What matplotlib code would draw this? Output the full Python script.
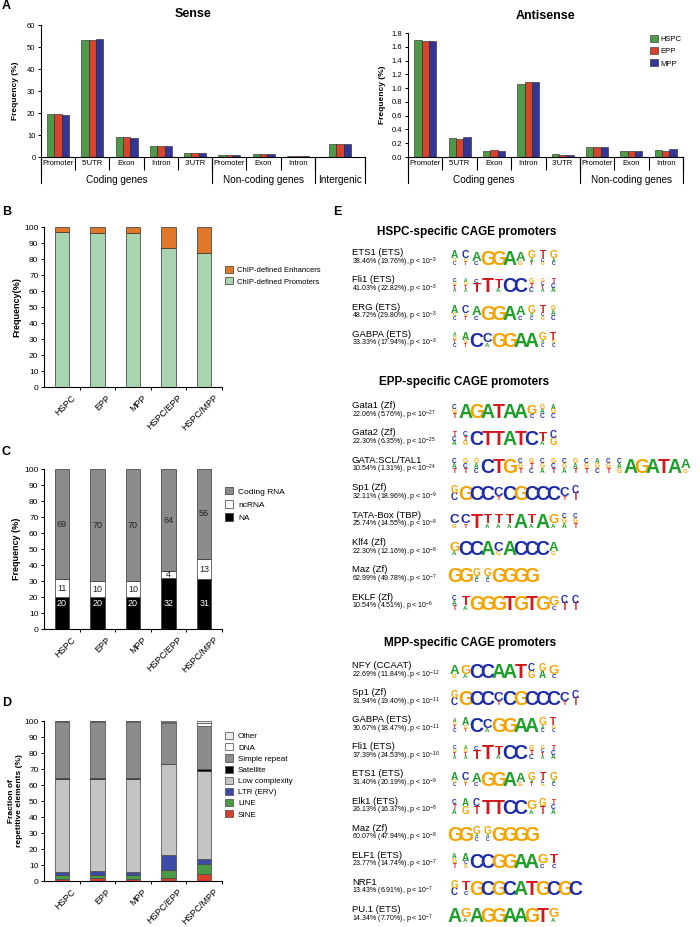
import matplotlib
matplotlib.use('agg')
import matplotlib.pyplot as plt
import matplotlib.transforms as mtransforms
import numpy as np

plt.rcParams['font.family'] = ['Liberation Sans', 'DejaVu Sans']
plt.rcParams['mathtext.fontset'] = 'custom'
plt.rcParams['mathtext.rm'] = 'Liberation Sans'
plt.rcParams['mathtext.it'] = 'Liberation Sans:italic'
plt.rcParams['mathtext.bf'] = 'Liberation Sans:bold'

# ---------------- data ----------------
cell_types = ['HSPC', 'EPP', 'MPP']
cell_colors = ['#4f9a48', '#d8432e', '#333597']

sense_cats = ['Promoter', "5'UTR", 'Exon', 'Intron', "3'UTR", 'Promoter', 'Exon', 'Intron', '']
sense_hspc = [19.5, 53.0, 9.1, 5.0, 2.0, 0.9, 1.5, 0.4, 6.1]
sense_epp = [19.5, 53.0, 9.1, 5.0, 1.7, 0.9, 1.5, 0.4, 6.1]
sense_mpp = [19.2, 53.8, 8.5, 5.0, 1.8, 0.9, 1.5, 0.4, 6.1]

anti_cats = ['Promoter', "5'UTR", 'Exon', 'Intron', "3'UTR", 'Promoter', 'Exon', 'Intron']
anti_hspc = [1.70, 0.276, 0.09, 1.06, 0.045, 0.145, 0.08, 0.10]
anti_epp = [1.68, 0.26, 0.10, 1.09, 0.035, 0.145, 0.08, 0.09]
anti_mpp = [1.69, 0.285, 0.09, 1.09, 0.035, 0.145, 0.08, 0.11]

groups = ['HSPC', 'EPP', 'MPP', 'HSPC/EPP', 'HSPC/MPP']

chip_promoters = [97.0, 96.5, 96.5, 87.0, 84.0]
chip_enhancers = [3.0, 3.5, 3.5, 13.0, 16.0]

rna_na = [20, 20, 20, 32, 31]
rna_nc = [11, 10, 10, 4, 13]
rna_coding = [69, 70, 70, 64, 56]

rep_names = ['SINE', 'LINE', 'LTR (ERV)', 'Low complexity', 'Satellite', 'Simple repeat', 'DNA', 'Other']
rep_colors = ['#d9412e', '#4a9a45', '#3c4aa8', '#c4c4c4', '#000000', '#8c8c8c', '#ffffff', '#ebebeb']
rep_sine = [1.5, 2.0, 1.5, 2.0, 4.5]
rep_line = [2.0, 1.5, 2.0, 4.7, 6.0]
rep_ltr = [2.3, 3.0, 2.2, 9.3, 3.0]
rep_lowc = [58.2, 57.5, 58.3, 57.0, 55.5]
rep_sat = [0.4, 0.3, 0.4, 0.3, 0.7]
rep_simple = [35.2, 35.3, 35.2, 25.7, 27.3]
rep_dna = [0.2, 0.2, 0.2, 0.5, 1.5]
rep_other = [0.2, 0.2, 0.2, 0.5, 1.5]

# motif blocks: logo columns top->bottom, upper = major letter, lower = minor letter
hspc_names = ['ETS1 (ETS)', 'Fli1 (ETS)', 'ERG (ETS)', 'GABPA (ETS)']
hspc_target = ['38.46', '41.03', '48.72', '33.33']
hspc_backgr = ['19.76', '22.82', '29.80', '17.94']
hspc_pexp = ['-3', '-3', '-3', '-3']
hspc_logos = [
    'Agc Cgt Ac G G A Ag Gat Tcg Gac',
    'cgta agta cT T Ta C C gtc gcta tca',
    'Agc Cgt Ac G G A Ac Gac Tcg gac',
    'agtc Agt C Ca G G A A Gac Tgc',
]

epp_names = ['Gata1 (Zf)', 'Gata2 (Zf)', 'GATA:SCL/TAL1', 'Sp1 (Zf)', 'TATA-Box (TBP)',
             'Klf4 (Zf)', 'Maz (Zf)', 'EKLF (Zf)']
epp_target = ['22.06', '22.30', '10.54', '32.11', '25.74', '22.30', '62.99', '10.54']
epp_backgr = ['5.76', '6.35', '1.31', '18.96', '14.55', '12.16', '49.78', '4.51']
epp_pexp = ['-27', '-25', '-24', '-9', '-8', '-8', '-7', '-6']
epp_logos = [
    'cgt A G A T A A Gc gac agc',
    'tca ctg C T T A T C Ta cg',
    'cat gct gac C T G cgt gtc cga gct cga gat cgt agc cgt cag A G A T A Ag',
    'gc G C C Ct C G C C C Ct ct',
    'Cg Ct T Ta Ta Ta A Ta A Ga cga cgt',
    'Ga C C A Cg A C C C Ag',
    'G G Gac Gac G G G G',
    'cat Ta G G G T G T G Gc ct ct',
]

mpp_names = ['NFY (CCAAT)', 'Sp1 (Zf)', 'GABPA (ETS)', 'Fli1 (ETS)', 'ETS1 (ETS)',
             'Elk1 (ETS)', 'Maz (Zf)', 'ELF1 (ETS)', 'NRF1', 'PU.1 (ETS)']
mpp_target = ['22.69', '31.94', '30.67', '37.39', '31.40', '26.13', '60.07', '23.77', '13.43', '14.34']
mpp_backgr = ['11.84', '19.40', '18.47', '24.53', '20.19', '16.37', '47.94', '14.74', '6.91', '7.70']
mpp_pexp = ['-12', '-11', '-11', '-10', '-9', '-8', '-8', '-7', '-7', '-7']
mpp_logos = [
    'Ag Ga C C A A T cg ga Gc',
    'gc G C C Ct C G C C C Ct ct',
    'agtc Agt C Ca G G A A Gac Tgc',
    'cgta agta cT T Ta C C gtc gcta tca',
    'Agc Cgt Ac G G A Ag Gat Tcg Gac',
    'cta ag ct T T C C Ga gt tca',
    'G G Gac Gac G G G G',
    'agt Acg C C G G A A Gc Tc',
    'gc Tc G C G C A T G C G C',
    'A Ga A G G A A G T Ga',
]

logo_colors = {'A': '#1f9e2c', 'C': '#1c2ba6', 'G': '#f4a400', 'T': '#d3161b'}

# ---------------- figure ----------------
W, H = 700, 927
fig = plt.figure(figsize=(W / 100, H / 100), dpi=100)


def px_axes(x0, y0, x1, y1):
    return fig.add_axes([x0 / W, 1 - y1 / H, (x1 - x0) / W, (y1 - y0) / H])


def base_style(ax, ylabsize=5.5):
    for s in ['top', 'right']:
        ax.spines[s].set_visible(False)
    for s in ['left', 'bottom']:
        ax.spines[s].set_linewidth(0.8)
    ax.tick_params(axis='y', direction='out', length=2.5, width=0.7,
                   labelsize=ylabsize, pad=1.5)


def region_chart(ax, cats, xs, series, edges, group_info, ax_w, ax_h, title):
    bw = 0.213
    for k, vals in enumerate(series):
        ax.bar(np.asarray(xs) + (k - 1) * bw, vals, bw, color=cell_colors[k],
               edgecolor='#222222', linewidth=0.4, label=cell_types[k])
    ax.set_xlim(edges[0], edges[-1])
    ax.set_xticks(xs)
    ax.set_xticklabels(cats, fontsize=5.5)
    ax.set_xticks(edges, minor=True)
    ax.tick_params(axis='x', which='major', length=0, pad=2.2)
    ax.tick_params(axis='x', which='minor', length=13 * 0.72, width=0.8, direction='out')
    tr = ax.get_xaxis_transform()
    for b in group_info['lines']:
        ax.plot([b, b], [0, -26 / ax_h], transform=tr, clip_on=False, color='k', lw=0.8)
    for lab, xc in group_info['labels']:
        ax.text(xc, -23 / ax_h, lab, transform=tr, ha='center', va='center', fontsize=7.2)
    ax.set_title(title, fontsize=9, weight='bold', pad=6)
    ax.set_ylabel('Frequency (%)', fontsize=6, weight='bold')
    ax.yaxis.set_label_coords(-22 / ax_w, 0.5)


# ---- Panel A: sense ----
axs = px_axes(41, 25, 365, 157)
base_style(axs)
sense_x = np.r_[np.arange(8), 8.23]
region_chart(axs, sense_cats, sense_x, [sense_hspc, sense_epp, sense_mpp],
             np.r_[np.arange(-0.5, 8.0, 1.0), 8.96],
             {'lines': [-0.5, 4.5, 7.5, 8.96],
              'labels': [('Coding genes', 1.7), ('Non-coding genes', 6.0), ('Intergenic', 8.23)]},
             324, 132, 'Sense')
axs.set_ylim(0, 60)
axs.set_yticks(np.arange(0, 61, 10))
axs.title.set_position((0.47, 1.0))

# ---- Panel A: antisense ----
axa = px_axes(408, 33, 683, 157)
base_style(axa)
anti_x = np.arange(8)
region_chart(axa, anti_cats, anti_x, [anti_hspc, anti_epp, anti_mpp],
             np.arange(-0.5, 8.0, 1.0),
             {'lines': [-0.5, 4.5, 7.5],
              'labels': [('Coding genes', 1.7), ('Non-coding genes', 6.0)]},
             275, 124, 'Antisense')
axa.set_ylim(0, 1.8)
axa.set_yticks(np.arange(0, 1.81, 0.2))
axa.set_yticklabels(['%.1f' % v for v in np.arange(0, 1.81, 0.2)])
axa.set_title('Antisense', fontsize=9, weight='bold', pad=10)
axa.legend(loc='upper left', bbox_to_anchor=(650 / W, 1 - 35 / H), bbox_transform=fig.transFigure,
           frameon=False, fontsize=5.5, handlelength=1.0, handleheight=1.0, borderpad=0,
           labelspacing=0.55, handletextpad=0.4, borderaxespad=0)


def stacked_style(ax, ylabel, ylab_lines=1):
    base_style(ax, ylabsize=6)
    ax.set_xlim(-0.5, 4.5)
    ax.set_ylim(0, 100)
    ax.set_yticks(np.arange(0, 101, 10))
    ax.set_xticks(np.arange(5))
    ax.set_xticklabels(groups, rotation=45, ha='right', rotation_mode='anchor', fontsize=6.5)
    ax.tick_params(axis='x', which='major', length=0, pad=4.5)
    ax.set_xticks(np.arange(0.5, 4.6, 1.0), minor=True)
    ax.tick_params(axis='x', which='minor', length=2.5, width=0.7, direction='out')
    off = mtransforms.ScaledTranslation(9 / 100, 0, fig.dpi_scale_trans)
    for lab in ax.get_xticklabels():
        lab.set_transform(lab.get_transform() + off)
    ax.set_ylabel(ylabel, fontsize=6.5 if ylab_lines == 1 else 6, weight='bold', linespacing=1.1)
    ax.yaxis.set_label_coords(-23 / 178 if ylab_lines == 1 else -21 / 178, 0.5)


pos = np.arange(len(groups))
bwid = 0.41
ekw = dict(edgecolor='#333333', linewidth=0.5)

# ---- Panel B ----
axb = px_axes(44, 227, 222, 387)
stacked_style(axb, 'Frequency(%)')
hb1 = axb.bar(pos, chip_promoters, bwid, color='#a8d4b0', **ekw)
hb2 = axb.bar(pos, chip_enhancers, bwid, bottom=chip_promoters, color='#e0782a', **ekw)
axb.legend([hb2, hb1], ['ChIP-defined Enhancers', 'ChIP-defined Promoters'], loc='upper left',
           bbox_to_anchor=(225 / W, 1 - 266 / H), bbox_transform=fig.transFigure, frameon=False,
           fontsize=5.5, handlelength=1.0, handleheight=1.0, borderpad=0, labelspacing=0.45,
           handletextpad=0.6, borderaxespad=0)

# ---- Panel C ----
axc = px_axes(44, 469, 222, 629)
stacked_style(axc, 'Frequency (%)')
na_arr = np.array(rna_na, float)
nc_arr = np.array(rna_nc, float)
hc1 = axc.bar(pos, na_arr, bwid, color='#000000', **ekw)
hc2 = axc.bar(pos, nc_arr, bwid, bottom=na_arr, color='#ffffff', **ekw)
hc3 = axc.bar(pos, rna_coding, bwid, bottom=na_arr + nc_arr, color='#8c8c8c', **ekw)
for i in range(len(groups)):
    axc.text(i, max(na_arr[i] / 2, 16), str(rna_na[i]), ha='center', va='center',
             fontsize=6.5, color='white')
    axc.text(i, na_arr[i] + nc_arr[i] / 2, str(rna_nc[i]), ha='center', va='center',
             fontsize=6.5, color='#222222')
    axc.text(i, na_arr[i] + nc_arr[i] + rna_coding[i] / 2, str(rna_coding[i]), ha='center',
             va='center', fontsize=6.5, color='#222222')
axc.legend([hc3, hc2, hc1], ['Coding RNA', 'ncRNA', 'NA'], loc='upper left',
           bbox_to_anchor=(225 / W, 1 - 487 / H), bbox_transform=fig.transFigure, frameon=False,
           fontsize=6, handlelength=1.0, handleheight=1.0, borderpad=0, labelspacing=0.55,
           handletextpad=0.6, borderaxespad=0)

# ---- Panel D ----
axd = px_axes(44, 721, 222, 881)
stacked_style(axd, 'Fraction of\nrepetitive elements (%)', ylab_lines=2)
rep_series = [rep_sine, rep_line, rep_ltr, rep_lowc, rep_sat, rep_simple, rep_dna, rep_other]
bottom = np.zeros(len(groups))
handles = []
for vals, col in zip(rep_series, rep_colors):
    h = axd.bar(pos, vals, bwid, bottom=bottom, color=col, edgecolor='#444444', linewidth=0.5)
    handles.append(h)
    bottom = bottom + np.array(vals)
axd.legend(handles[::-1], rep_names[::-1], loc='upper left',
           bbox_to_anchor=(225 / W, 1 - 732 / H), bbox_transform=fig.transFigure, frameon=False,
           fontsize=5.8, handlelength=1.0, handleheight=1.0, borderpad=0, labelspacing=0.35,
           handletextpad=0.6, borderaxespad=0)

# ---- Panel E: motifs ----
axe = px_axes(330, 200, 700, 927)
axe.set_xlim(330, 700)
axe.set_ylim(927, 200)
axe.axis('off')

CAP = 0.716


def draw_logo(x0, ybot, spec, full_h=14.0, pitch=11.0):
    for i, col in enumerate(spec.split()):
        weights = [3 if ch.isupper() else 1.4 for ch in col]
        tot = float(sum(weights))
        xc = x0 + pitch * i + pitch / 2
        y = ybot
        for ch, w in reversed(list(zip(col, weights))):
            hh = full_h * w / tot
            fs = hh / CAP * 72 / 100
            axe.text(xc, y, ch.upper(), fontsize=fs, ha='center', va='baseline',
                     color=logo_colors[ch.upper()], family='Liberation Sans', weight='bold')
            y -= hh


def motif_block(title, title_x, title_y, y0, step, names, target, backgr, pexp, logos):
    axe.text(title_x, title_y, title, ha='center', va='center', fontsize=8.5, weight='bold')
    for i in range(len(names)):
        yr = y0 + step * i
        axe.text(352, yr, names[i], ha='left', va='center', fontsize=6.8)
        axe.text(352, yr + 9.5, '%s%% (%s%%), p < 10$^{%s}$' % (target[i], backgr[i], pexp[i]),
                 ha='left', va='center', fontsize=5)
        draw_logo(449, yr + 12.5, logos[i])


motif_block('HSPC-specific CAGE promoters', 467, 232, 252.7, 27.2,
            hspc_names, hspc_target, hspc_backgr, hspc_pexp, hspc_logos)
motif_block('EPP-specific CAGE promoters', 464, 382, 405.5, 27.4,
            epp_names, epp_target, epp_backgr, epp_pexp, epp_logos)
motif_block('MPP-specific CAGE promoters', 470, 643, 665.5, 27.1,
            mpp_names, mpp_target, mpp_backgr, mpp_pexp, mpp_logos)

# panel letters
for lab, x, y in [('A', 2, 6), ('B', 2, 212), ('C', 2, 452), ('D', 2, 703), ('E', 333, 212)]:
    fig.text(x / W, 1 - y / H, lab, fontsize=9, weight='bold', ha='left', va='center')

fig.savefig('out.png', dpi=100)
